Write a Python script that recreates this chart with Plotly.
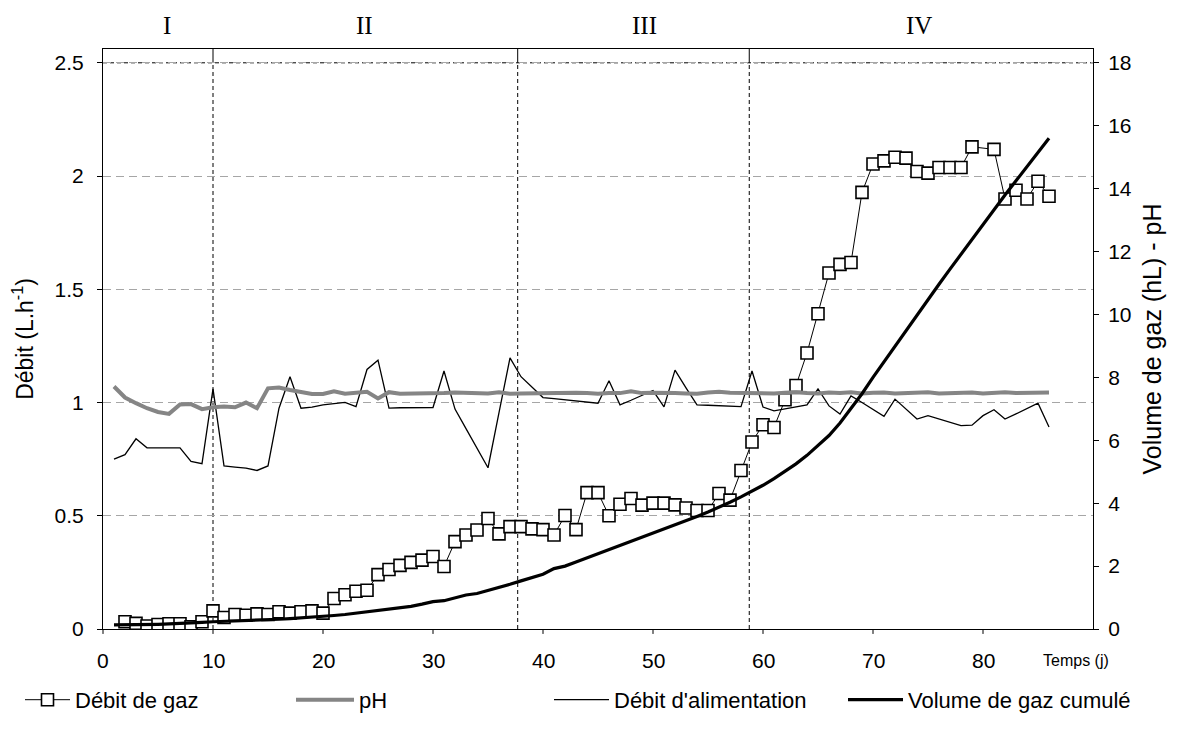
import plotly.graph_objects as go

# ---- data -------------------------------------------------------------
# gas flow (L/h), measured days (no reading on day 80)
gas_days = list(range(2, 80)) + list(range(81, 87))
gas_flow = [
    0.032, 0.025, 0.013, 0.020, 0.023, 0.023, 0.010, 0.032, 0.080,          # 2-10
    0.051, 0.064, 0.061, 0.067, 0.064, 0.076, 0.070, 0.076, 0.080, 0.070,   # 11-20
    0.135, 0.151, 0.167, 0.171, 0.240, 0.263, 0.281, 0.294, 0.304, 0.320,   # 21-30
    0.276, 0.386, 0.415, 0.437, 0.488, 0.420, 0.452, 0.452, 0.442, 0.439,   # 31-40
    0.415, 0.501, 0.439, 0.602, 0.602, 0.500, 0.551, 0.576, 0.547, 0.556,   # 41-50
    0.556, 0.548, 0.534, 0.523, 0.523, 0.598, 0.569, 0.700, 0.826, 0.902,   # 51-60
    0.890, 1.012, 1.075, 1.219, 1.392, 1.572, 1.610, 1.618, 1.928, 2.053,   # 61-70
    2.067, 2.083, 2.079, 2.020, 2.013, 2.038, 2.038, 2.038, 2.129,          # 71-79
    2.118, 1.899, 1.937, 1.899, 1.977, 1.911,                               # 81-86
]

days = list(range(1, 87))

# feed flow (L/h)
feed_flow = [
    0.75, 0.77, 0.84, 0.80, 0.80, 0.80, 0.80, 0.74, 0.73, 1.06,             # 1-10
    0.72, 0.715, 0.71, 0.70, 0.72, 0.975, 1.114, 0.975, 0.98, 0.99,        # 11-20
    0.995, 1.001, 0.982, 1.146, 1.187, 0.975, 0.977, 0.977, 0.977, 0.978,  # 21-30
    1.139, 0.971, 0.885, 0.80, 0.712, 0.955, 1.197, 1.114, 1.068, 1.022,   # 31-40
    1.017, 1.012, 1.007, 1.002, 0.997, 1.096, 0.99, 1.01, 1.03, 1.053,     # 41-50
    0.981, 1.143, 1.065, 0.99, 0.988, 0.986, 0.984, 0.982, 1.139, 0.98,    # 51-60
    0.963, 0.972, 0.981, 0.99, 1.06, 0.985, 0.949, 1.029, 1.0, 0.97,       # 61-70
    0.939, 1.015, 0.97, 0.927, 0.942, 0.927, 0.912, 0.898, 0.90, 0.942,    # 71-80
    0.968, 0.927, 0.95, 0.973, 0.997, 0.892,                               # 81-86
]

# pH
ph = [
    7.71, 7.36, 7.18, 7.02, 6.90, 6.84, 7.14, 7.15, 6.99, 7.05,            # 1-10
    7.07, 7.05, 7.20, 7.02, 7.65, 7.68, 7.60, 7.54, 7.47, 7.47,            # 11-20
    7.56, 7.48, 7.50, 7.54, 7.33, 7.53, 7.48, 7.48, 7.49, 7.47,            # 21-30
    7.50, 7.52, 7.50, 7.48, 7.49, 7.53, 7.48, 7.49, 7.50, 7.51,            # 31-40
    7.51, 7.52, 7.51, 7.50, 7.48, 7.50, 7.50, 7.56, 7.50, 7.51,            # 41-50
    7.52, 7.50, 7.49, 7.48, 7.52, 7.54, 7.51, 7.50, 7.52, 7.50,            # 51-60
    7.49, 7.51, 7.53, 7.50, 7.49, 7.52, 7.50, 7.53, 7.49, 7.51,            # 61-70
    7.52, 7.49, 7.51, 7.50, 7.53, 7.49, 7.51, 7.50, 7.52, 7.49,            # 71-80
    7.51, 7.53, 7.50, 7.51, 7.50, 7.52,                                    # 81-86
]

# cumulated gas volume (hL)
gas_volume = [
    0.13, 0.13, 0.14, 0.14, 0.15, 0.16, 0.17, 0.19, 0.21, 0.23,            # 1-10
    0.24, 0.25, 0.26, 0.27, 0.29, 0.31, 0.33, 0.35, 0.37, 0.40,            # 11-20
    0.43, 0.46, 0.50, 0.54, 0.58, 0.62, 0.66, 0.72, 0.79, 0.87,            # 21-30
    0.90, 0.98, 1.08, 1.13, 1.22, 1.31, 1.42, 1.53, 1.63, 1.74,            # 31-40
    1.92, 2.00, 2.13, 2.26, 2.40, 2.53, 2.66, 2.79, 2.92, 3.05,            # 41-50
    3.18, 3.31, 3.44, 3.58, 3.72, 3.87, 4.03, 4.20, 4.38, 4.57,            # 51-60
    4.78, 5.00, 5.25, 5.52, 5.82, 6.15, 6.55, 7.00, 7.48, 8.00,            # 61-70
    8.50, 9.00, 9.50, 10.00, 10.48, 10.96, 11.44, 11.92, 12.40, 12.87,     # 71-80
    13.33, 13.80, 14.25, 14.70, 15.15, 15.60,                              # 81-86
]

phase_bounds = [10, 37.7, 58.75]
phase_labels = ["I", "II", "III", "IV"]
phase_label_x = [5.8, 23.8, 49.2, 74.2]

x_ticks = [0, 10, 20, 30, 40, 50, 60, 70, 80]
y_ticks = [0, 0.5, 1, 1.5, 2, 2.5]
y2_ticks = [0, 2, 4, 6, 8, 10, 12, 14, 16, 18]

# ---- figure -----------------------------------------------------------
FONT = "Liberation Sans, Arial, sans-serif"
X_MAX = 90
Y_TOP = 2.561
Y2_TOP = 18.44
M_L, M_R, M_T, M_B = 103, 88, 49, 95
PLOT_W = 1181 - M_L - M_R
PLOT_H = 733 - M_T - M_B
TICK_LEN = 5
LABEL_DY = 32      # px from the time axis down to the centre of its labels
LEGEND_DY = 72     # px from the time axis down to the legend row

fig = go.Figure()

fig.add_trace(go.Scatter(
    x=gas_days, y=gas_flow, name="Débit de gaz", mode="lines+markers",
    line=dict(color="black", width=1),
    marker=dict(symbol="square", size=12, color="white",
                line=dict(color="black", width=1.6)),
    yaxis="y", legend="legend",
))
fig.add_trace(go.Scatter(
    x=days, y=ph, name="pH", mode="lines",
    line=dict(color="#858585", width=4),
    yaxis="y2", legend="legend2",
))
fig.add_trace(go.Scatter(
    x=days, y=feed_flow, name="Débit d'alimentation", mode="lines",
    line=dict(color="black", width=1.3),
    yaxis="y", legend="legend3",
))
fig.add_trace(go.Scatter(
    x=days, y=gas_volume, name="Volume de gaz cumulé", mode="lines",
    line=dict(color="black", width=3.2),
    yaxis="y2", legend="legend4",
))

shapes = [
    # top reference line at 2.5
    dict(type="line", xref="x", yref="y", x0=0, x1=X_MAX, y0=2.5, y1=2.5,
         line=dict(color="black", width=1, dash="4px,3px"), layer="below"),
]
for xb in phase_bounds:
    shapes.append(dict(type="line", xref="x", yref="y", x0=xb, x1=xb, y0=0, y1=2.5,
                       line=dict(color="black", width=1, dash="4px,3px"), layer="below"))
    shapes.append(dict(type="line", xref="x", yref="y", x0=xb, x1=xb, y0=2.5, y1=Y_TOP,
                       line=dict(color="black", width=1), layer="below"))
# short tick marks under the time axis
for xt in x_ticks:
    shapes.append(dict(type="line", xref="paper", yref="paper",
                       x0=xt / X_MAX, x1=xt / X_MAX, y0=0, y1=-TICK_LEN / PLOT_H,
                       line=dict(color="black", width=1)))

annotations = [
    dict(text=lab, x=xp, xref="x", y=1.04, yref="paper", showarrow=False,
         xanchor="center", yanchor="middle",
         font=dict(family="Liberation Serif, Times New Roman, serif", size=25, color="black"))
    for lab, xp in zip(phase_labels, phase_label_x)
]
# time-axis labels
for xt in x_ticks:
    annotations.append(dict(
        text=str(xt), x=xt, xref="x", y=-LABEL_DY / PLOT_H, yref="paper", showarrow=False,
        xanchor="center", yanchor="middle", font=dict(family=FONT, size=21, color="black")))
annotations.append(dict(
    text="Temps (j)", x=85.3, xref="x", y=-LABEL_DY / PLOT_H, yref="paper", showarrow=False,
    xanchor="left", yanchor="middle", font=dict(family=FONT, size=16, color="black")))


def legend_at(px_left, item_w):
    return dict(x=(px_left - M_L) / PLOT_W, y=-LEGEND_DY / PLOT_H,
                xanchor="left", yanchor="middle",
                orientation="h", font=dict(family=FONT, size=22, color="black"),
                itemwidth=item_w, bgcolor="rgba(0,0,0,0)")


fig.update_layout(
    width=1181, height=733,
    margin=dict(l=M_L, r=M_R, t=M_T, b=M_B),
    paper_bgcolor="white", plot_bgcolor="white",
    font=dict(family=FONT, size=21, color="black"),
    showlegend=True,
    legend=legend_at(20, 45),
    legend2=legend_at(291, 58),
    legend3=legend_at(549, 55),
    legend4=legend_at(843, 55),
    xaxis=dict(range=[0, X_MAX], tickvals=x_ticks, showticklabels=False,
               showgrid=False, zeroline=False,
               showline=True, linecolor="black", linewidth=1, mirror=True, ticks=""),
    yaxis=dict(range=[0, Y_TOP], tickvals=y_ticks, showgrid=True,
               gridcolor="#a6a6a6", griddash="8px,5px", gridwidth=1, zeroline=False,
               showline=True, linecolor="black", linewidth=1,
               ticks="outside", ticklen=TICK_LEN, tickcolor="black",
               ticklabelstandoff=9, tickfont=dict(size=21),
               title=dict(text="Débit (L.h<sup>-1</sup>)", font=dict(size=23), standoff=14)),
    yaxis2=dict(range=[0, Y2_TOP], tickvals=y2_ticks, overlaying="y", side="right",
                showgrid=False, zeroline=False,
                showline=True, linecolor="black", linewidth=1,
                ticks="outside", ticklen=TICK_LEN, tickcolor="black",
                ticklabelstandoff=5, tickfont=dict(size=21),
                title=dict(text="Volume de gaz (hL) - pH", font=dict(size=25), standoff=12)),
    shapes=shapes,
    annotations=annotations,
)

fig.write_html("out.html")
